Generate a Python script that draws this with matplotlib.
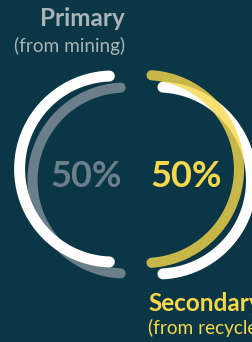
"""Primary vs secondary share shown as two offset ring halves."""

from matplotlib import pyplot
import numpy

# Shares (percent) and labels.
shares = [50, 50]
titles = ['Primary', 'Secondary']
subtitles = ['(from mining)', '(from recycled)']

# Arc geometry in pixel units (y downwards): centre x, centre y, radius,
# start angle, end angle (degrees, counter-clockwise).
arcs = {
    'grey': (125.5, 180.5, 93.0, 93.0, 267.0),
    'white_left': (112.6, 169.0, 93.0, 92.0, 268.0),
    'white_right': (158.0, 180.5, 93.5, -87.0, 87.0),
    'yellow': (145.0, 169.0, 94.0, -86.0, 86.0),
}

bg = '#0b3646'
grey = '#6b7f8a'
light_grey = '#a9b3b8'
yellow = '#f7d84b'


def arc_xy(cx, cy, r, a0, a1):
    theta = numpy.radians(numpy.linspace(a0, a1, 200))
    return cx + r * numpy.cos(theta), cy - r * numpy.sin(theta)


fig = pyplot.figure(figsize=(2.52, 3.42), dpi=100, facecolor=bg)
ax = fig.add_axes([0, 0, 1, 1])
ax.set_facecolor(bg)
ax.set_xlim(0, 252)
ax.set_ylim(342, 0)
ax.axis('off')

# Left pair: grey behind, white in front.
ax.plot(*arc_xy(*arcs['grey']), color=grey, lw=7.3,
        solid_capstyle='round')
ax.plot(*arc_xy(*arcs['white_left']), color='white', lw=7.9,
        solid_capstyle='round')
# Right pair: white behind, translucent yellow in front.
ax.plot(*arc_xy(*arcs['white_right']), color='white', lw=7.9,
        solid_capstyle='round')
ax.plot(*arc_xy(*arcs['yellow']), color=yellow, lw=7.3, alpha=0.8,
        solid_capstyle='round')

font = 'Lato'
ax.text(125, 26, titles[0], ha='right', va='baseline', color=light_grey,
        fontsize=17.5, fontweight='bold', family=font)
ax.text(125, 52, subtitles[0], ha='right', va='baseline', color=light_grey,
        fontsize=13.7, family=font)
ax.text(148, 311, titles[1], ha='left', va='baseline', color=yellow,
        fontsize=17.5, fontweight='bold', family=font)
ax.text(148, 334, subtitles[1], ha='left', va='baseline', color=yellow,
        fontsize=13.7, family=font)

ax.text(50, 187, f'{shares[0]}%', ha='left', va='baseline', color=grey,
        fontsize=26, fontweight='bold', family=font)
ax.text(150, 187, f'{shares[1]}%', ha='left', va='baseline', color=yellow,
        fontsize=26, fontweight='bold', family=font)

fig.savefig('out.png', dpi=100, facecolor=bg)
